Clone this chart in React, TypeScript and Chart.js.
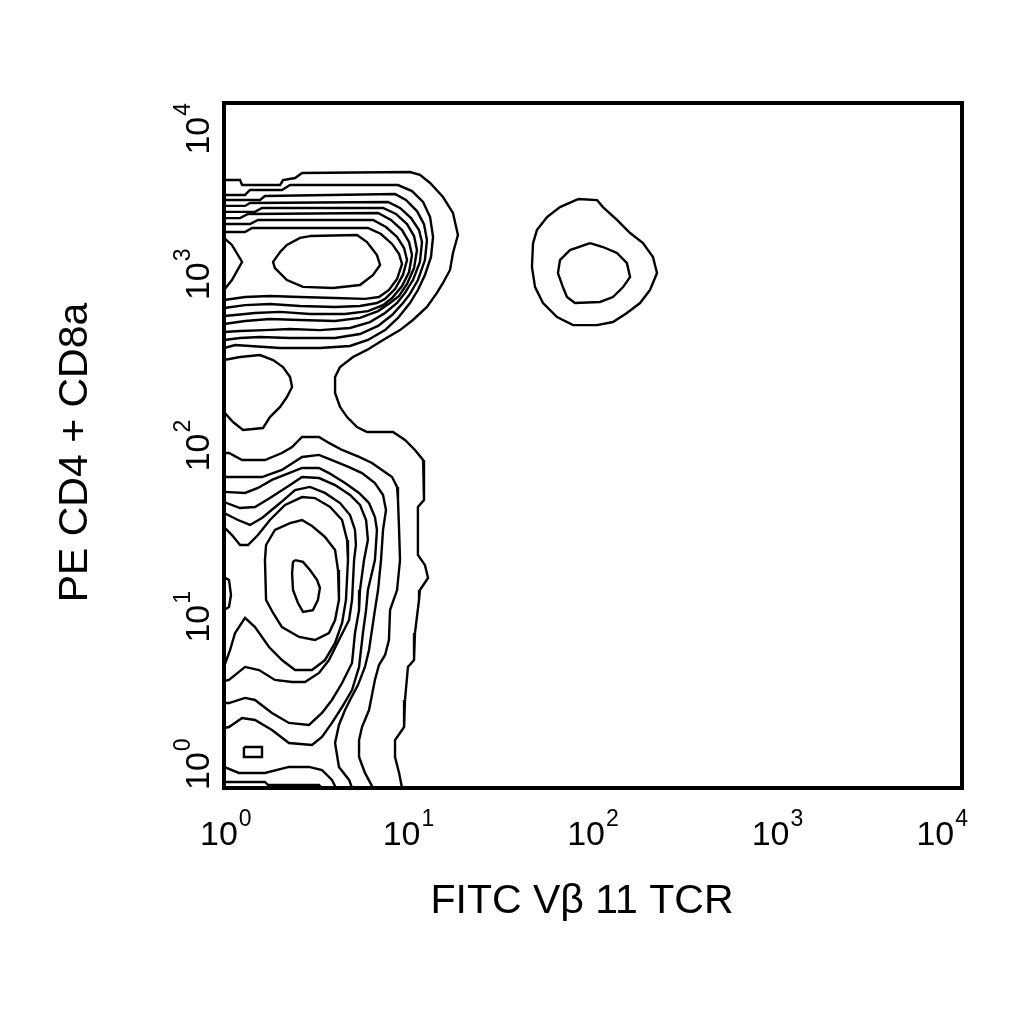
import React, { useEffect, useRef } from "react";
import { Chart, registerables } from "chart.js";

Chart.register(...registerables);

// Axis decades (log10 units) and their labels
const tickExponents = [0, 1, 2, 3, 4];
const tickBase = "10";
const xTitle = "FITC V\u03b2 11 TCR";
const yTitle = "PE CD4 + CD8a";

// Contour lines, points given as [log10(FITC), log10(PE)]
const outerContour: number[][] = [[0,3.550],[0.087,3.550],[0.098,3.521],[0.304,3.521],[0.320,3.550],[0.385,3.562],[0.423,3.591],[1.008,3.597],[1.062,3.580],[1.117,3.533],[1.187,3.451],[1.241,3.358],[1.268,3.229],[1.241,3.124],[1.225,3.025],[1.187,2.949],[1.154,2.891],[1.100,2.809],[1.024,2.733],[0.954,2.674],[0.862,2.616],[0.775,2.558],[0.699,2.517],[0.629,2.458],[0.602,2.400],[0.602,2.307],[0.629,2.225],[0.667,2.166],[0.721,2.108],[0.775,2.079],[0.916,2.079],[0.981,2.032],[1.035,1.974],[1.079,1.915],[1.084,1.682],[1.051,1.641],[1.051,1.361],[1.089,1.302],[1.106,1.226],[1.062,1.156],[1.057,1.098],[1.035,0.905],[1.030,0.747],[0.997,0.707],[0.981,0.514],[0.976,0.356],[0.927,0.280],[0.927,0.181],[0.949,0.088],[0.965,0]];

const upperBand1: number[][] = [[0,3.463],[0.114,3.463],[0.141,3.492],[0.314,3.492],[0.358,3.521],[0.943,3.521],[1.019,3.486],[1.079,3.422],[1.117,3.334],[1.133,3.218],[1.122,3.101],[1.089,2.996],[1.051,2.908],[1.008,2.832],[0.943,2.745],[0.873,2.674],[0.780,2.616],[0.683,2.581],[0.520,2.569],[0.304,2.569],[0.141,2.581],[0.060,2.587],[0,2.569]];
const upperBand2: number[][] = [[0,3.434],[0.195,3.434],[0.222,3.457],[0.927,3.469],[0.986,3.434],[1.046,3.369],[1.084,3.293],[1.100,3.200],[1.089,3.083],[1.051,2.966],[1.008,2.885],[0.970,2.832],[0.911,2.762],[0.835,2.698],[0.737,2.651],[0.602,2.628],[0.358,2.628],[0.195,2.634],[0.087,2.628],[0,2.616]];
const upperBand3: number[][] = [[0,3.399],[0.114,3.399],[0.141,3.416],[0.889,3.422],[0.954,3.387],[1.014,3.328],[1.057,3.258],[1.073,3.188],[1.062,3.072],[1.024,2.966],[0.981,2.891],[0.938,2.832],[0.873,2.774],[0.791,2.721],[0.683,2.686],[0.520,2.674],[0.358,2.680],[0.222,2.674],[0.087,2.669],[0,2.663]];
const upperBand4: number[][] = [[0,3.364],[0.168,3.364],[0.206,3.387],[0.862,3.387],[0.932,3.352],[0.992,3.293],[1.030,3.223],[1.046,3.142],[1.030,3.036],[0.992,2.943],[0.949,2.873],[0.900,2.832],[0.835,2.785],[0.737,2.745],[0.602,2.727],[0.412,2.733],[0.249,2.739],[0.114,2.727],[0,2.709]];
const upperBand5: number[][] = [[0,3.328],[0.087,3.328],[0.130,3.352],[0.835,3.358],[0.905,3.317],[0.965,3.258],[1.003,3.188],[1.019,3.112],[1.003,3.013],[0.965,2.931],[0.911,2.861],[0.862,2.820],[0.780,2.785],[0.656,2.768],[0.466,2.768],[0.304,2.780],[0.168,2.774],[0.060,2.762],[0,2.756]];
const upperBand6: number[][] = [[0,3.293],[0.141,3.293],[0.184,3.317],[0.808,3.317],[0.878,3.276],[0.938,3.218],[0.976,3.153],[0.992,3.083],[0.970,2.996],[0.927,2.914],[0.873,2.856],[0.829,2.832],[0.737,2.815],[0.602,2.809],[0.412,2.815],[0.249,2.826],[0.114,2.820],[0,2.803]];
const upperBand7: number[][] = [[0,3.247],[0.114,3.247],[0.152,3.270],[0.780,3.270],[0.851,3.235],[0.911,3.177],[0.949,3.118],[0.965,3.060],[0.938,2.972],[0.894,2.908],[0.840,2.867],[0.764,2.856],[0.602,2.861],[0.412,2.867],[0.249,2.873],[0.114,2.867],[0,2.850]];
const upperNotch: number[][] = [[0,3.212],[0.043,3.171],[0.098,3.072],[0.043,2.966],[0,2.908]];
const upperCore: number[][] = [[0.466,3.223],[0.721,3.229],[0.775,3.188],[0.829,3.112],[0.846,3.054],[0.808,2.996],[0.737,2.937],[0.591,2.920],[0.428,2.926],[0.341,2.966],[0.276,3.036],[0.266,3.072],[0.304,3.130],[0.341,3.171],[0.412,3.212],[0.466,3.223]];

const midBlob: number[][] = [[0,2.499],[0.087,2.517],[0.195,2.528],[0.266,2.499],[0.320,2.458],[0.358,2.400],[0.369,2.342],[0.341,2.283],[0.304,2.225],[0.249,2.166],[0.211,2.102],[0.103,2.091],[0.049,2.137],[0,2.196]];

const lowerRing1: number[][] = [[0,1.956],[0.027,1.956],[0.098,1.915],[0.222,1.915],[0.314,1.956],[0.369,1.991],[0.423,2.050],[0.515,2.050],[0.569,2.015],[0.640,1.974],[0.732,1.933],[0.802,1.898],[0.856,1.857],[0.911,1.816],[0.938,1.758],[0.943,1.682],[0.949,1.507],[0.954,1.331],[0.938,1.156],[0.900,1.039],[0.894,0.864],[0.873,0.777],[0.840,0.718],[0.818,0.631],[0.802,0.543],[0.786,0.455],[0.748,0.356],[0.732,0.280],[0.732,0.181],[0.764,0.088],[0.808,0]];
const lowerRing2: number[][] = [[0,1.816],[0.206,1.816],[0.314,1.857],[0.423,1.933],[0.515,1.945],[0.585,1.915],[0.678,1.874],[0.748,1.839],[0.818,1.781],[0.862,1.711],[0.878,1.623],[0.862,1.507],[0.851,1.331],[0.835,1.156],[0.818,1.039],[0.802,0.923],[0.786,0.806],[0.764,0.707],[0.726,0.601],[0.683,0.514],[0.656,0.455],[0.623,0.368],[0.602,0.263],[0.623,0.123],[0.678,0.047],[0.694,0]];
const lowerRing3: number[][] = [[0,1.729],[0.114,1.723],[0.184,1.752],[0.260,1.799],[0.352,1.839],[0.423,1.869],[0.515,1.869],[0.569,1.839],[0.656,1.781],[0.732,1.723],[0.786,1.664],[0.818,1.582],[0.829,1.507],[0.818,1.331],[0.780,1.156],[0.770,1.039],[0.753,0.905],[0.732,0.707],[0.694,0.572],[0.640,0.473],[0.585,0.380],[0.531,0.298],[0.477,0.251],[0.352,0.263],[0.260,0.339],[0.168,0.397],[0.098,0.409],[0.027,0.356],[0,0.350]];
const lowerRing4: number[][] = [[0,1.670],[0.087,1.635],[0.168,1.641],[0.249,1.693],[0.358,1.769],[0.423,1.816],[0.515,1.810],[0.602,1.769],[0.683,1.711],[0.737,1.653],[0.770,1.565],[0.780,1.448],[0.759,1.331],[0.737,1.156],[0.732,1.039],[0.710,0.905],[0.694,0.730],[0.640,0.613],[0.585,0.514],[0.531,0.438],[0.461,0.368],[0.352,0.380],[0.260,0.438],[0.168,0.514],[0.114,0.526],[0.027,0.496],[0,0.496]];
const lowerRing5: number[][] = [[0,1.606],[0.076,1.565],[0.141,1.536],[0.206,1.577],[0.304,1.664],[0.385,1.740],[0.466,1.758],[0.547,1.723],[0.629,1.664],[0.683,1.594],[0.710,1.507],[0.715,1.419],[0.705,1.331],[0.694,1.098],[0.678,0.981],[0.623,0.864],[0.569,0.747],[0.515,0.672],[0.439,0.619],[0.369,0.619],[0.276,0.631],[0.190,0.689],[0.114,0.707],[0.027,0.631],[0,0.625]];
const lowerRing6: number[][] = [[0,1.524],[0.043,1.477],[0.087,1.419],[0.130,1.419],[0.184,1.477],[0.249,1.565],[0.331,1.653],[0.423,1.699],[0.493,1.693],[0.575,1.641],[0.640,1.565],[0.667,1.448],[0.672,1.331],[0.661,1.098],[0.640,0.964],[0.602,0.847],[0.547,0.747],[0.477,0.689],[0.385,0.689],[0.314,0.747],[0.244,0.823],[0.168,0.940],[0.114,0.993],[0.060,0.905],[0.033,0.806],[0,0.707]];
const lowerEdgeBit: number[][] = [[0,1.232],[0.027,1.215],[0.038,1.127],[0.027,1.057],[0,1.039]];
const lowerRing7: number[][] = [[0.222,1.331],[0.228,1.419],[0.276,1.507],[0.358,1.547],[0.423,1.565],[0.477,1.530],[0.547,1.466],[0.602,1.390],[0.618,1.273],[0.623,1.098],[0.602,0.981],[0.569,0.905],[0.493,0.864],[0.407,0.882],[0.314,0.940],[0.266,1.022],[0.228,1.098],[0.222,1.331]];
const lowerCore: number[][] = [[0.385,1.331],[0.428,1.320],[0.466,1.273],[0.504,1.215],[0.520,1.168],[0.509,1.098],[0.482,1.039],[0.428,1.028],[0.401,1.080],[0.374,1.156],[0.369,1.255],[0.374,1.320],[0.385,1.331]];
const bottomSpot: number[][] = [[0.108,0.239],[0.206,0.239],[0.206,0.181],[0.108,0.181],[0.108,0.239]];
const bottomLine1: number[][] = [[0,0.123],[0.081,0.088],[0.222,0.088],[0.352,0.123],[0.461,0.123],[0.531,0.105],[0.585,0.047],[0.607,0]];
const bottomLine2: number[][] = [[0,0.035],[0.222,0.035],[0.238,0.018],[0.515,0.018],[0.531,0]];

const cd3Outer: number[][] = [[1.919,3.439],[2.022,3.433],[2.054,3.392],[2.130,3.317],[2.201,3.241],[2.271,3.182],[2.325,3.101],[2.347,3.007],[2.309,2.908],[2.255,2.832],[2.184,2.774],[2.108,2.721],[2.022,2.703],[1.892,2.703],[1.805,2.750],[1.729,2.832],[1.686,2.925],[1.669,3.042],[1.675,3.182],[1.696,3.258],[1.751,3.334],[1.821,3.392],[1.919,3.439]];
const cd3Inner: number[][] = [[1.984,3.182],[2.054,3.159],[2.130,3.124],[2.184,3.065],[2.201,2.984],[2.163,2.925],[2.108,2.867],[2.038,2.838],[1.902,2.832],[1.859,2.867],[1.837,2.925],[1.810,3.007],[1.821,3.083],[1.875,3.141],[1.984,3.182]];

const contours = [
  outerContour, upperBand1, upperBand2, upperBand3, upperBand4, upperBand5, upperBand6, upperBand7,
  upperNotch, upperCore, midBlob,
  lowerRing1, lowerRing2, lowerRing3, lowerRing4, lowerRing5, lowerRing6, lowerEdgeBit, lowerRing7, lowerCore,
  bottomSpot, bottomLine1, bottomLine2, cd3Outer, cd3Inner,
];

const FONT = '"Liberation Sans", Arial, Helvetica, sans-serif';

const labelPlugin = {
  id: "flowLabels",
  afterDraw(chart: any) {
    const { ctx, chartArea: a, scales } = chart;
    ctx.save();
    ctx.strokeStyle = "#000";
    ctx.lineWidth = 4;
    ctx.strokeRect(a.left, a.top, a.right - a.left, a.bottom - a.top);

    ctx.fillStyle = "#000";
    ctx.textBaseline = "alphabetic";
    ctx.textAlign = "left";
    const mainFont = `34px ${FONT}`;
    const supFont = `23px ${FONT}`;
    const measure = (exp: number) => {
      ctx.font = mainFont;
      const w1 = ctx.measureText(tickBase).width;
      ctx.font = supFont;
      const w2 = ctx.measureText(String(exp)).width;
      return { w1, w2, total: w1 + w2 + 1 };
    };
    const drawPow = (exp: number, start: number, w1: number) => {
      ctx.font = mainFont;
      ctx.fillText(tickBase, start, 0);
      ctx.font = supFont;
      ctx.fillText(String(exp), start + w1 + 1, -19);
    };

    // x tick labels
    tickExponents.forEach((e) => {
      const px = scales.x.getPixelForValue(e);
      const m = measure(e);
      let left = px - m.total / 2;
      left = Math.max(a.left - 24, Math.min(left, a.right + 6 - m.total));
      ctx.save();
      ctx.translate(left, 845);
      drawPow(e, 0, m.w1);
      ctx.restore();
    });

    // y tick labels (rotated)
    tickExponents.forEach((e) => {
      const py = scales.y.getPixelForValue(e);
      const m = measure(e);
      let bottom = py + m.total / 2;
      bottom = Math.min(bottom, a.bottom + 2);
      bottom = Math.max(bottom, a.top + m.total);
      ctx.save();
      ctx.translate(209, bottom);
      ctx.rotate(-Math.PI / 2);
      drawPow(e, 0, m.w1);
      ctx.restore();
    });

    // axis titles
    ctx.font = `41px ${FONT}`;
    ctx.textAlign = "center";
    ctx.fillText(xTitle, (a.left + a.right) / 2 - 11, 913);
    ctx.save();
    ctx.translate(87, (a.top + a.bottom) / 2 + 7);
    ctx.rotate(-Math.PI / 2);
    ctx.fillText(yTitle, 0, 0);
    ctx.restore();
    ctx.restore();
  },
};

export default function App() {
  const ref = useRef<HTMLCanvasElement | null>(null);
  useEffect(() => {
    if (!ref.current) return;
    const chart = new Chart(ref.current, {
      type: "scatter",
      data: {
        datasets: contours.map((c) => ({
          data: c.map(([x, y]) => ({ x, y })),
          showLine: true,
          borderColor: "#000",
          borderWidth: 2.4,
          pointRadius: 0,
          pointHoverRadius: 0,
          fill: false,
          tension: 0,
        })),
      },
      options: {
        responsive: false,
        animation: false,
        devicePixelRatio: 1,
        events: [],
        layout: { padding: { left: 224, right: 62, top: 103, bottom: 236 } },
        plugins: { legend: { display: false }, tooltip: { enabled: false } },
        scales: {
          x: { type: "linear", min: 0, max: 4, display: false },
          y: { type: "linear", min: 0, max: 4, display: false },
        },
      },
      plugins: [labelPlugin],
    });
    return () => chart.destroy();
  }, []);
  return (
    <div style={{ position: "absolute", left: 0, top: 0, width: 1024, height: 1024, background: "#fff" }}>
      <canvas ref={ref} width={1024} height={1024} style={{ display: "block" }} />
    </div>
  );
}
